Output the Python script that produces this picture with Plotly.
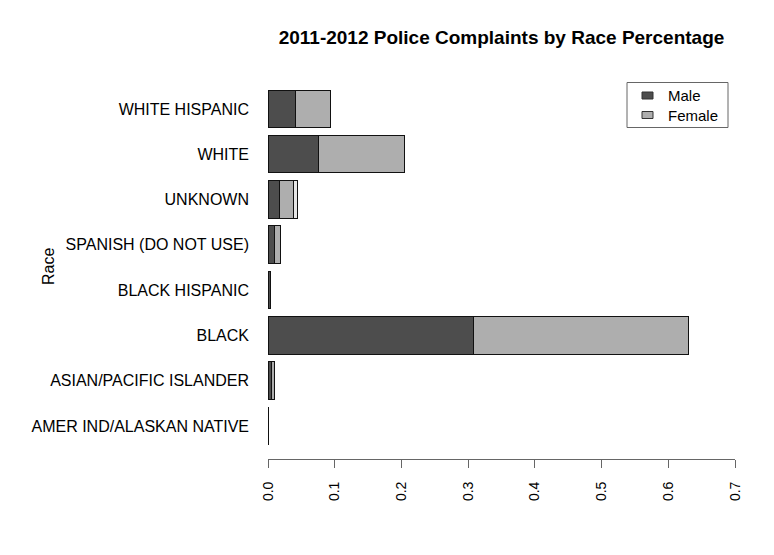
import plotly.graph_objects as go

# ---- data (bottom to top, as drawn) ----
races = ["AMER IND/ALASKAN NATIVE", "ASIAN/PACIFIC ISLANDER", "BLACK", "BLACK HISPANIC",
         "SPANISH (DO NOT USE)", "UNKNOWN", "WHITE", "WHITE HISPANIC"]
male = [0.001, 0.0045, 0.308, 0.0035, 0.009, 0.017, 0.075, 0.041]
female = [0.0003, 0.0050, 0.323, 0.0008, 0.009, 0.0215, 0.130, 0.052]
other = [0.0, 0.0, 0.0, 0.0, 0.0, 0.005, 0.0, 0.0]
x_ticks = [0.0, 0.1, 0.2, 0.3, 0.4, 0.5, 0.6, 0.7]
series_names = ["Male", "Female"]
colors = ["#4D4D4D", "#AEAEAE", "#E6E6E6"]

W, H = 774, 555
L, R, T, B = 268, 39, 84, 96
FONT = "Liberation Sans, Arial, Helvetica, sans-serif"

fig = go.Figure()
for name, vals, col in [("Male", male, colors[0]),
                        ("Female", female, colors[1]),
                        ("Other", other, colors[2])]:
    fig.add_trace(go.Bar(
        y=races, x=vals, orientation="h", name=name,
        marker=dict(color=col, line=dict(color="#111111", width=1)),
        showlegend=False,
    ))

pw = W - L - R
ph = H - T - B


def px2x(px):
    return (px - L) / pw


def py2y(py):
    return (H - B - py) / ph


LEG_FS = 15
row_gap = LEG_FS * 1.3
row0 = 95.5
shapes = [
    dict(type="rect", xref="paper", yref="paper",
         x0=px2x(627), x1=px2x(728), y0=py2y(row0 + row_gap + 12.5), y1=py2y(row0 - 13),
         line=dict(color="#666666", width=1), fillcolor="white"),
]
for i, name in enumerate(series_names):
    cy = row0 + row_gap * i
    shapes.append(dict(type="rect", xref="paper", yref="paper",
                       x0=px2x(642), x1=px2x(653), y0=py2y(cy + 3.5), y1=py2y(cy - 3.5),
                       line=dict(color="#333333", width=1), fillcolor=colors[i]))

annotations = [
    dict(text="Race", xref="paper", yref="paper", x=px2x(48), y=py2y(267),
         textangle=-90, showarrow=False, font=dict(size=16, color="black", family=FONT),
         xanchor="center", yanchor="middle"),
    dict(text="<br>".join(series_names), xref="paper", yref="paper",
         x=px2x(666), y=py2y(row0 + row_gap / 2), xanchor="left", yanchor="middle",
         align="left", showarrow=False,
         font=dict(size=LEG_FS, color="black", family=FONT)),
]

fig.update_layout(
    width=W, height=H,
    margin=dict(l=L, r=R, t=T, b=B, pad=0),
    paper_bgcolor="white", plot_bgcolor="white",
    barmode="stack", bargap=0.17,
    font=dict(family=FONT, color="black"),
    title=dict(text="<b>2011-2012 Police Complaints by Race Percentage</b>",
               xref="paper", x=0.5, xanchor="center",
               yref="container", y=1 - 37 / H, yanchor="middle",
               font=dict(size=19, color="black", family=FONT)),
    xaxis=dict(range=[0, 0.7], tickvals=x_ticks, ticktext=[f"{v:.1f}" for v in x_ticks],
               tickangle=-90, ticks="outside", ticklen=8, tickcolor="#666666",
               showline=True, linecolor="#666666", linewidth=1,
               showgrid=False, zeroline=False,
               tickfont=dict(size=14, color="black", family=FONT),
               ticklabelstandoff=8),
    yaxis=dict(categoryorder="array", categoryarray=races, range=[-0.73, 7.55],
               showline=False, showgrid=False, zeroline=False, ticks="",
               tickfont=dict(size=16, color="black", family=FONT),
               ticklabelstandoff=18),
    shapes=shapes, annotations=annotations,
)

fig.write_html("out.html")
